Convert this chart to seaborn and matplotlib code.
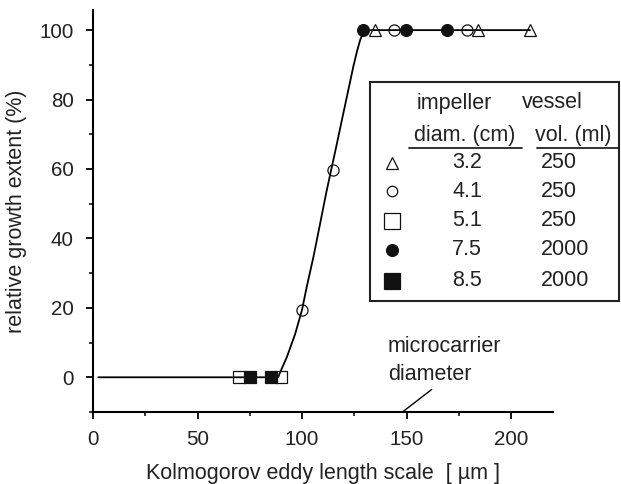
import numpy as np
import matplotlib
matplotlib.use("Agg")
import matplotlib.pyplot as plt
from matplotlib.patches import Rectangle
from matplotlib.lines import Line2D
import seaborn as sns

# fitted curve
curve_x = [2.5, 88.5, 90.5, 92.7, 96.7, 100, 102.2, 105.4, 108.6, 111.5, 114,
           116, 119, 122.2, 124.5, 126.3, 127.8, 129, 130.2, 131.5, 209]
curve_y = [0, 0, 2.8, 5.8, 12.5, 19.5, 26, 34.6, 44.2, 53, 60,
           65.5, 74, 83, 89.5, 94, 97.2, 98.9, 99.7, 100, 100]

# measured points per impeller diameter
tri_x = [134.9, 184.2, 209.1]          # 3.2 cm
tri_y = [100, 100, 100]
ocirc_x = [99.9, 114.7, 144, 178.9]    # 4.1 cm
ocirc_y = [19.5, 59.8, 100, 100]
osq_x = [69.7, 90]                     # 5.1 cm
osq_y = [0, 0]
fcirc_x = [129.2, 149.8, 169.4]        # 7.5 cm
fcirc_y = [100, 100, 100]
fsq_x = [75, 85]                       # 8.5 cm
fsq_y = [0, 0]

diam_labels = ["3.2", "4.1", "5.1", "7.5", "8.5"]
vol_labels = ["250", "250", "250", "2000", "2000"]

sns.set_theme(style="ticks")
plt.rcParams['font.family'] = ['Liberation Sans', 'DejaVu Sans']
plt.rcParams['axes.linewidth'] = 1.5
FS = 14.8
AFS = 15.5
LFS = 15.5
TXT = '#222222'

W, H = 621, 484
fig = plt.figure(figsize=(W / 100, H / 100), dpi=100)
ax = fig.add_axes([93 / W, 1 - 412 / H, (553 - 93) / W, (412 - 10) / H])

def fx(px):
    return px / W

def fy(py):
    return 1 - py / H

sns.lineplot(x=curve_x, y=curve_y, ax=ax, color='black', lw=1.3, sort=False,
             estimator=None, zorder=2)

pts = [
    (tri_x, tri_y, '^', 'none', 9),
    (ocirc_x, ocirc_y, 'o', 'none', 8),
    (osq_x, osq_y, 's', 'none', 8),
    (fcirc_x, fcirc_y, 'o', '#111111', 8.5),
    (fsq_x, fsq_y, 's', '#111111', 8),
]
for xs, ys, m, fc, ms in pts:
    ax.plot(xs, ys, linestyle='none', marker=m, markerfacecolor=fc,
            markeredgecolor='#111111', markersize=ms, markeredgewidth=0.9,
            zorder=3, clip_on=False)

ax.set_xlim(0, 220)
ax.set_ylim(-10, 105.8)
ax.set_xticks([0, 50, 100, 150, 200])
ax.set_xticks([25, 75, 125, 175], minor=True)
ax.set_yticks([0, 20, 40, 60, 80, 100])
ax.set_yticks([-10, 10, 30, 50, 70, 90], minor=True)
ax.tick_params(which='major', length=5, width=1.3, labelsize=FS,
               color='black', labelcolor=TXT)
ax.tick_params(axis='y', which='major', pad=9)
ax.tick_params(axis='x', which='major', pad=8)
ax.tick_params(which='minor', length=3, width=1.1, color='black')
sns.despine(ax=ax)
for s in ['left', 'bottom']:
    ax.spines[s].set_color('black')

ax.set_xlabel('Kolmogorov eddy length scale  [ µm ]', fontsize=AFS,
              color=TXT, labelpad=10)
ax.set_ylabel('relative growth extent (%)', fontsize=AFS, color=TXT,
              labelpad=9)

# microcarrier annotation
fig.text(fx(388), fy(347), 'microcarrier', fontsize=LFS, color=TXT,
         ha='left', va='center')
fig.text(fx(388), fy(375), 'diameter', fontsize=LFS, color=TXT,
         ha='left', va='center')
ax.plot([148, 162], [-10, -3.5], color='black', lw=1.0, clip_on=False)

# hand-made legend table
fig.patches.append(Rectangle((fx(370), fy(301)), fx(619) - fx(370),
                             fy(82) - fy(301), transform=fig.transFigure,
                             fill=False, edgecolor=TXT, lw=1.5))
fig.text(fx(454), fy(103), 'impeller', fontsize=LFS, ha='center', va='center',
         color=TXT)
fig.text(fx(552), fy(103), 'vessel', fontsize=LFS, ha='center', va='center',
         color=TXT)
fig.text(fx(465), fy(135), 'diam. (cm)', fontsize=LFS, ha='center',
         va='center', color=TXT)
fig.text(fx(573), fy(135), 'vol. (ml)', fontsize=LFS, ha='center',
         va='center', color=TXT)
fig.lines.append(Line2D([fx(409), fx(522)], [fy(148), fy(148)],
                        transform=fig.transFigure, color=TXT, lw=1.3))
fig.lines.append(Line2D([fx(537), fx(618)], [fy(148), fy(148)],
                        transform=fig.transFigure, color=TXT, lw=1.3))

rows_y = [163, 191, 221, 250, 281]
leg_style = [('^', 'none', 9), ('o', 'none', 7.5), ('s', 'none', 11),
             ('o', '#111111', 8.5), ('s', '#111111', 11)]
for ry, (m, fc, ms), d, v in zip(rows_y, leg_style, diam_labels, vol_labels):
    fig.lines.append(Line2D([fx(392)], [fy(ry)], transform=fig.transFigure,
                            linestyle='none', marker=m, markerfacecolor=fc,
                            markeredgecolor='#111111', markersize=ms,
                            markeredgewidth=0.9))
    fig.text(fx(467), fy(ry), d, fontsize=LFS, ha='center', va='center',
             color=TXT)
    fig.text(fx(541), fy(ry), v, fontsize=LFS, ha='left', va='center',
             color=TXT)

fig.savefig('out.png', dpi=100)
